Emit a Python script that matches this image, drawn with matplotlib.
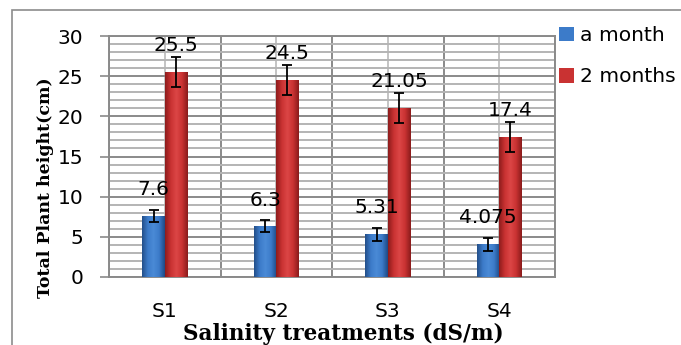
import matplotlib
matplotlib.use("Agg")
import matplotlib.pyplot as plt
import numpy as np
from matplotlib.colors import LinearSegmentedColormap
from matplotlib.patches import Rectangle

plt.rcParams['font.family'] = ['DejaVu Sans']

treatments = ["S1", "S2", "S3", "S4"]
month1 = [7.6, 6.3, 5.31, 4.075]
month2 = [25.5, 24.5, 21.05, 17.4]
err1 = [0.7, 0.75, 0.8, 0.8]
err2 = [1.9, 1.9, 1.85, 1.9]
labels1 = ["7.6", "6.3", "5.31", "4.075"]
labels2 = ["25.5", "24.5", "21.05", "17.4"]

fig = plt.figure(figsize=(6.81, 3.45), dpi=100)
ax = fig.add_axes([109 / 681, 1 - 277 / 345, 446 / 681, 241 / 345])

# outer chart border (runs off right/bottom like the screenshot)
fig.patches.append(Rectangle((12 / 681, -0.2), 1.2, 1.2 - 10 / 345,
                             transform=fig.transFigure, fill=False,
                             edgecolor="#8c8c8c", lw=1.2))

x = np.arange(len(treatments))
w = 0.2
blue_cmap = LinearSegmentedColormap.from_list("b", ["#234f8a", "#3c7bc9", "#4a8ad6", "#3c7bc9", "#1f4a85"])
red_cmap = LinearSegmentedColormap.from_list("r", ["#8e1c1c", "#c93232", "#dc4646", "#c93232", "#8a1b1b"])

ax.set_xlim(-0.5, 3.5)
ax.set_ylim(0, 30)

b1 = ax.bar(x - w / 2, month1, w, color="#3c7bc9", zorder=3, label="a month")
b2 = ax.bar(x + w / 2, month2, w, color="#c93232", zorder=3, label="2 months")

grad = np.linspace(0, 1, 64).reshape(1, -1)
for bars, cm in ((b1, blue_cmap), (b2, red_cmap)):
    for p in bars:
        im = ax.imshow(grad, cmap=cm, aspect="auto", zorder=4,
                       extent=(p.get_x(), p.get_x() + p.get_width(), 0, p.get_height()))
        im.set_clip_path(p)

ax.errorbar(x - w / 2, month1, yerr=err1, fmt="none", ecolor="black",
            elinewidth=1.3, capsize=3.6, capthick=1.3, zorder=6)
ax.errorbar(x + w / 2, month2, yerr=err2, fmt="none", ecolor="black",
            elinewidth=1.3, capsize=3.6, capthick=1.3, zorder=6)

for xi, v, t in zip(x - w / 2, month1, labels1):
    ax.annotate(t, (xi, v), xytext=(0, 19), textcoords="offset points",
                ha="center", va="center", fontsize=14.5, zorder=7)
for xi, v, t in zip(x + w / 2, month2, labels2):
    ax.annotate(t, (xi, v), xytext=(0, 19), textcoords="offset points",
                ha="center", va="center", fontsize=14.5, zorder=7)

# gridlines
ax.set_yticks(np.arange(0, 31, 5))
ax.set_yticks(np.arange(0, 31, 1), minor=True)
ax.set_xticks(x)
ax.set_xticks(np.arange(-0.5, 4, 1), minor=True)
ax.set_xticklabels(treatments)
ax.grid(which="major", axis="y", color="#8a8a8a", lw=1.4, zorder=0)
ax.grid(which="minor", axis="y", color="#b4b4b4", lw=1.4, zorder=0)
ax.grid(which="minor", axis="x", color="#8a8a8a", lw=1.4, zorder=0)
ax.grid(which="major", axis="x", color="#c4c4c4", lw=1.4, zorder=0)
ax.set_axisbelow(True)

ax.tick_params(axis="y", which="major", length=6.5, width=1.2, color="#8a8a8a",
               labelsize=14.5, pad=12)
ax.tick_params(axis="y", which="minor", length=0)
ax.tick_params(axis="x", which="both", length=0, labelsize=14.5, pad=18)
for s in ax.spines.values():
    s.set_color("#8a8a8a")
    s.set_linewidth(1.4)

fig.text(46 / 681, 1 - 188 / 345, "Total Plant height(cm)", rotation=90,
         ha="center", va="center", fontsize=12.5, fontweight="bold",
         family="DejaVu Serif")
fig.text(343 / 681, 1 - 334 / 345, "Salinity treatments (dS/m)",
         ha="center", va="center", fontsize=15.5, fontweight="bold",
         family="DejaVu Serif")

fig.legend(handles=[b1, b2], loc="upper left", bbox_to_anchor=(559 / 681, 1 - 26 / 345),
           frameon=False, fontsize=14.6, handlelength=0.75, handleheight=0.75,
           handletextpad=0.3, labelspacing=1.1, borderaxespad=0, borderpad=0)

fig.savefig("out.png", dpi=100)
